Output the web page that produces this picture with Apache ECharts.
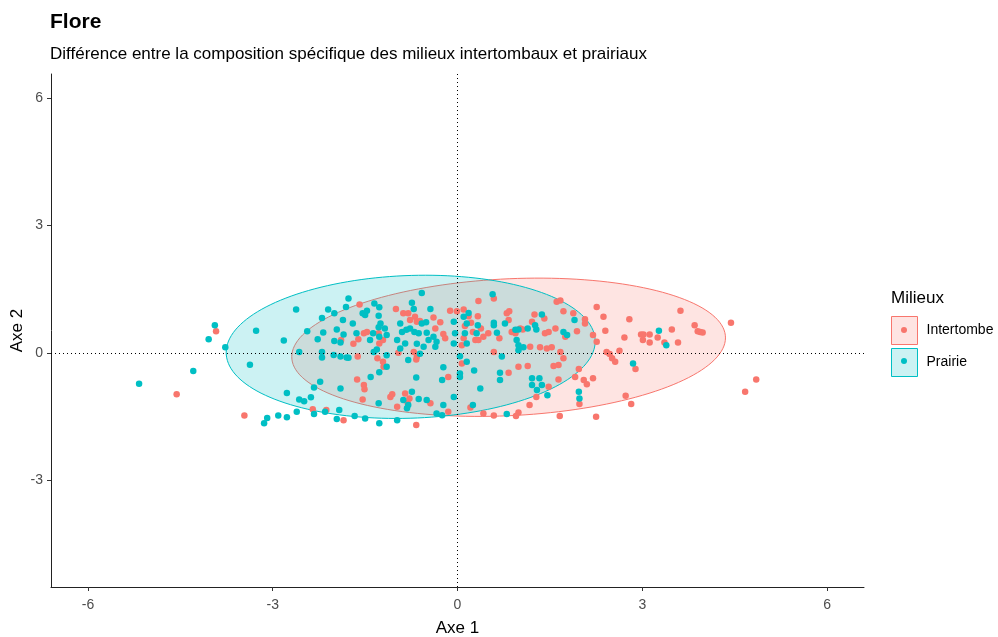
<!DOCTYPE html>
<html>
<head>
<meta charset="utf-8">
<script src="https://cdn.jsdelivr.net/npm/echarts@6/dist/echarts.min.js"></script>
<style>
  html, body { margin: 0; padding: 0; background: #ffffff; }
  #chart { width: 998px; height: 637px; }
</style>
</head>
<body>
<div id="chart"></div>
<script>
const FONT = '"Liberation Sans", Arial, Helvetica, sans-serif';

// Groups and their colours
const groups = ['Intertombe', 'Prairie'];
const groupColors = ['#F8766D', '#00BFC4'];

// Site scores on the first two axes
const intertombe = [
  [-3.92,0.51],[-4.56,-0.98],[-3.46,-1.48],
  [-1.59,1.14],[-1.00,1.03],[-0.88,0.93],[-0.80,0.93],[-0.69,0.85],[-0.77,0.77],[-0.66,0.73],[-0.61,0.75],
  [-0.39,0.83],[-0.28,0.72],[-0.36,0.57],[-0.23,0.44],[-0.20,0.34],[-0.12,0.99],[-1.52,0.46],[-1.47,0.49],
  [-1.61,0.32],[-1.69,0.21],[-1.89,0.30],[-1.28,0.46],[-1.27,0.22],[-1.21,0.30],[-1.62,-0.09],[-1.30,-0.13],
  [-1.21,-0.21],[-1.20,-0.33],[-0.71,0.02],[-0.96,0.00],[-0.66,-0.09],[-0.67,-0.16],[-1.63,-0.63],[-1.52,-0.76],
  [-1.51,-0.86],[-1.54,-1.10],[-1.09,-1.04],[-1.06,-0.98],[-0.98,-1.27],[-0.85,-0.96],[-0.78,-1.08],[-0.81,-1.18],
  [-0.67,-1.70],[-1.85,-1.59],[-2.35,-1.33],[-2.13,-1.35],[-0.44,-1.19],[-0.15,-0.57],[-0.15,-1.39],
  [0.34,1.22],[0.59,1.28],[0.10,1.02],[-0.01,0.98],[0.18,0.86],[0.33,0.86],[0.22,0.71],[0.12,0.63],[0.25,0.49],
  [0.38,0.57],[0.42,0.38],[0.50,0.46],[0.29,0.30],[0.34,0.30],[0.07,0.18],[0.10,0.34],[0.80,0.93],[0.84,0.98],
  [0.83,0.77],[0.68,0.34],[0.88,0.49],[0.94,0.46],[1.02,0.57],[1.06,0.55],[1.21,0.73],[1.25,0.90],[1.41,0.81],
  [1.18,0.14],[1.34,0.13],[1.45,0.10],[1.53,0.13],[1.67,0.02],[1.42,0.46],[1.48,0.49],[1.59,0.57],[1.61,1.20],
  [1.67,1.23],[1.72,0.98],[1.88,0.93],[2.07,0.79],[2.07,0.69],[1.94,0.51],[1.75,0.38],[2.20,0.42],[2.26,0.26],
  [2.42,0.02],[2.47,-0.03],[2.51,-0.13],[2.56,-0.21],[0.59,0.02],[0.07,-0.25],[0.83,-0.47],[0.99,-0.33],
  [1.14,-0.31],[1.56,-0.31],[1.64,-0.29],[1.72,-0.13],[1.97,-0.38],[1.91,-0.57],[2.05,-0.64],[2.10,-0.74],
  [2.20,-0.60],[1.64,-0.63],[1.48,-0.80],[1.28,-1.04],[1.17,-1.23],[0.99,-1.41],[0.95,-1.49],[0.42,-1.43],
  [0.59,-1.48],[0.21,-1.29],[1.66,-1.49],[1.98,-1.21],[2.25,-1.51],[2.26,1.08],[2.37,0.85],[2.40,0.52],
  [3.62,0.99],[2.79,0.79],[3.48,0.55],[3.85,0.65],[3.90,0.51],[3.94,0.49],[3.98,0.48],[2.98,0.43],[3.02,0.43],
  [3.12,0.43],[3.01,0.30],[3.12,0.24],[3.25,0.36],[3.36,0.24],[3.58,0.24],[2.71,0.36],[2.63,0.05],[2.89,-0.38],
  [2.73,-1.01],[2.82,-1.21],[4.44,0.71],[4.85,-0.63],[4.67,-0.92]
];

const prairie = [
  [-3.94,0.65],[-4.04,0.32],[-3.77,0.13],[-4.29,-0.43],[-5.17,-0.73],[-3.27,0.52],[-2.82,0.29],[-2.62,1.02],
  [-3.37,-0.28],[-2.77,-0.95],[-2.57,-1.10],[-2.61,-1.39],[-2.77,-1.52],[-2.91,-1.48],[-3.09,-1.54],[-3.14,-1.66],
  [-2.57,0.02],
  [-1.77,1.28],[-1.81,1.08],[-2.10,1.02],[-2.00,0.93],[-2.20,0.82],[-1.86,0.77],[-2.44,0.51],[-2.18,0.48],
  [-2.27,0.32],[-1.96,0.55],[-2.00,0.28],[-1.85,0.43],[-1.90,0.24],[-1.70,0.69],[-1.64,0.46],[-1.50,0.89],
  [-1.54,0.93],[-1.47,0.99],[-1.35,1.16],[-1.27,1.07],[-1.28,0.87],[-1.25,0.69],[-1.28,0.60],[-1.37,0.46],
  [-1.42,0.30],[-1.18,0.57],[-1.27,0.38],[-1.15,0.42],[-2.20,0.02],[-2.20,-0.11],[-2.01,-0.05],[-1.90,-0.09],
  [-1.80,-0.11],[-1.77,-0.12],[-1.36,0.02],[-1.31,0.08],[-1.15,-0.06],[-1.41,-0.57],[-1.27,-0.46],[-1.15,-0.33],
  [-1.90,-0.84],[-2.23,-0.68],[-2.33,-0.82],[-2.38,-1.05],[-2.49,-1.14],[-2.33,-1.44],[-2.15,-1.39],[-1.96,-1.56],
  [-1.92,-1.35],[-1.67,-1.49],[-1.50,-1.55],[-1.27,-1.66],[-0.98,-1.59],[-1.28,-1.19],[-0.80,-1.23],[-0.88,-1.11],
  [-0.74,-0.92],[-0.63,-1.09],[-0.50,-1.11],[-0.82,-1.31],[-0.71,1.03],[-0.74,1.18],[-0.58,1.41],[-0.44,1.03],
  [-0.51,0.72],[-0.58,0.69],[-0.50,0.47],[-0.63,0.46],[-0.70,0.49],[-0.77,0.57],[-0.83,0.54],[-0.93,0.69],
  [-0.90,0.49],[-0.98,0.30],[-0.85,0.22],[-0.93,0.10],[-0.66,0.21],[-0.61,-0.02],[-0.47,0.30],[-0.55,0.14],
  [-0.39,0.38],[-0.34,0.26],[-0.36,0.14],[-0.80,-0.17],[-0.67,-0.58],[-0.23,-0.34],[-0.25,-0.64],[-0.23,-1.23],
  [-0.34,-1.43],[-0.25,-1.47],[-0.06,0.73],[-0.04,0.46],[-0.06,0.22],[-0.06,-1.04],
  [0.57,1.38],[0.10,0.85],[0.18,0.94],[0.15,0.69],[0.33,0.65],[0.31,0.46],[0.12,0.46],[0.15,0.22],[0.59,0.71],
  [0.59,0.65],[0.64,0.47],[0.77,0.69],[0.94,0.54],[0.99,0.55],[1.14,0.57],[1.26,0.65],[1.28,0.55],[1.37,0.90],
  [0.96,0.30],[0.99,0.18],[0.99,0.06],[1.07,0.13],[0.72,-0.09],[0.04,-0.08],[0.15,-0.21],[0.27,-0.42],
  [0.04,-0.57],[0.04,-0.49],[0.69,-0.47],[0.69,-0.64],[0.37,-0.84],[1.21,-0.60],[1.21,-0.76],[1.33,-0.60],
  [1.37,-0.76],[1.29,-0.88],[1.46,-1.00],[1.72,0.49],[1.78,0.42],[1.90,0.77],[1.97,-0.92],[1.98,-1.08],
  [0.80,-1.44],[0.25,-1.23],
  [3.27,0.52],[3.39,0.18],[2.85,-0.25]
];

// 95% ellipses: centre x, centre y, semi-major, semi-minor, rotation (degrees)
const intertombeEllipse = [0.83, 0.13, 3.53, 1.61, 4.6];
const prairieEllipse = [-0.76, 0.14, 3.00, 1.68, 3.7];

// Axis extents and tick labels
const xRange = [-6.6, 6.6];
const yRange = [-5.52, 6.57];
const xTicks = [-6, -3, 0, 3, 6];
const yTicks = [-3, 0, 3, 6];

function withAlpha(hex, a) {
  const n = parseInt(hex.slice(1), 16);
  return 'rgba(' + ((n >> 16) & 255) + ',' + ((n >> 8) & 255) + ',' + (n & 255) + ',' + a + ')';
}

function ellipseSeries(name, params, color) {
  return {
    type: 'custom',
    name: name,
    z: 1,
    silent: true,
    data: [params],
    encode: { x: 0, y: 1 },
    renderItem: function (p, api) {
      const cx = api.value(0), cy = api.value(1);
      const a = api.value(2), b = api.value(3);
      const rot = api.value(4) * Math.PI / 180;
      const pts = [];
      const n = 160;
      for (let i = 0; i < n; i++) {
        const t = i / n * 2 * Math.PI;
        const x = cx + a * Math.cos(t) * Math.cos(rot) - b * Math.sin(t) * Math.sin(rot);
        const y = cy + a * Math.cos(t) * Math.sin(rot) + b * Math.sin(t) * Math.cos(rot);
        pts.push(api.coord([x, y]));
      }
      return {
        type: 'polygon',
        shape: { points: pts },
        style: { fill: withAlpha(color, 0.2), stroke: color, lineWidth: 1 }
      };
    }
  };
}

function pointSeries(name, data, color) {
  return {
    type: 'scatter',
    name: name,
    z: 3,
    data: data,
    symbolSize: 6.5,
    itemStyle: { color: color, opacity: 1 },
    emphasis: { disabled: true }
  };
}

// Legend key: a filled box, plus a dot drawn by a second legend on top
const dotIcon = 'path://M0,0M26,28M10,14a3,3 0 1,0 6,0a3,3 0 1,0 -6,0z';
const legendBase = {
  orient: 'vertical',
  left: 891,
  top: 316,
  padding: 0,
  itemWidth: 26,
  itemHeight: 28,
  itemGap: 3,
  selectedMode: false,
  textStyle: { fontSize: 14, fontFamily: FONT, color: '#000', padding: [0, 0, 0, 4] }
};

const chart = echarts.init(document.getElementById('chart'), null, { renderer: 'canvas' });
chart.setOption({
  animation: false,
  backgroundColor: '#ffffff',
  title: [
    { text: 'Flore', left: 50, top: 12, padding: 0,
      textStyle: { fontFamily: FONT, fontSize: 21, fontWeight: 'bold', color: '#000' } },
    { text: 'Différence entre la composition spécifique des milieux intertombaux et prairiaux', left: 50, top: 46, padding: 0,
      textStyle: { fontFamily: FONT, fontSize: 17, fontWeight: 'normal', color: '#000' } },
    { text: 'Milieux', left: 891, top: 290, padding: 0,
      textStyle: { fontFamily: FONT, fontSize: 17, fontWeight: 'normal', color: '#000' } }
  ],
  legend: [
    Object.assign({}, legendBase, {
      icon: 'rect',
      data: groups.map(function (g, i) {
        return { name: g, itemStyle: { color: withAlpha(groupColors[i], 0.2), borderColor: groupColors[i], borderWidth: 1 } };
      })
    }),
    Object.assign({}, legendBase, {
      textStyle: Object.assign({}, legendBase.textStyle, { color: 'rgba(0,0,0,0)' }),
      data: groups.map(function (g, i) {
        return { name: g, icon: dotIcon, itemStyle: { color: groupColors[i], borderWidth: 0 } };
      })
    })
  ],
  grid: { left: 51, right: 134, top: 74, bottom: 50, containLabel: false, outerBoundsMode: 'none' },
  xAxis: {
    type: 'value',
    min: xRange[0], max: xRange[1],
    name: 'Axe 1', nameLocation: 'middle', nameGap: 33, nameMoveOverlap: false,
    nameTextStyle: { fontFamily: FONT, fontSize: 17, color: '#000' },
    splitLine: { show: false },
    axisLine: { onZero: false, lineStyle: { color: '#222', width: 1 } },
    axisTick: { customValues: xTicks, length: 4, lineStyle: { color: '#333' } },
    axisLabel: { customValues: xTicks, fontFamily: FONT, fontSize: 14, color: '#4D4D4D', margin: 11 }
  },
  yAxis: {
    type: 'value',
    min: yRange[0], max: yRange[1],
    name: 'Axe 2', nameLocation: 'middle', nameGap: 25, nameMoveOverlap: false,
    nameTextStyle: { fontFamily: FONT, fontSize: 17, color: '#000' },
    splitLine: { show: false },
    axisLine: { onZero: false, lineStyle: { color: '#222', width: 1 } },
    axisTick: { customValues: yTicks, length: 4, lineStyle: { color: '#333' } },
    axisLabel: { customValues: yTicks, fontFamily: FONT, fontSize: 14, color: '#4D4D4D', margin: 8 }
  },
  series: [
    ellipseSeries('Intertombe', intertombeEllipse, groupColors[0]),
    ellipseSeries('Prairie', prairieEllipse, groupColors[1]),
    {
      type: 'scatter',
      data: [],
      z: 2,
      silent: true,
      markLine: {
        silent: true,
        symbol: 'none',
        label: { show: false },
        lineStyle: { color: '#000', width: 1, type: [1, 3] },
        emphasis: { disabled: true },
        data: [{ xAxis: 0 }, { yAxis: 0 }]
      }
    },
    pointSeries('Intertombe', intertombe, groupColors[0]),
    pointSeries('Prairie', prairie, groupColors[1])
  ]
});
</script>
</body>
</html>
